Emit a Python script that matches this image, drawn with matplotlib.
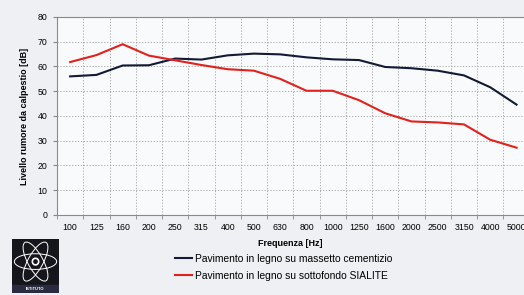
import matplotlib
matplotlib.use('Agg')
import matplotlib.pyplot as plt
from matplotlib.patches import Ellipse, Circle, Rectangle
import numpy as np

plt.rcParams['font.family'] = ['Liberation Sans', 'DejaVu Sans']

freqs = ['100', '125', '160', '200', '250', '315', '400', '500', '630', '800',
         '1000', '1250', '1600', '2000', '2500', '3150', '4000', '5000']
cementizio = [56.0, 56.6, 60.4, 60.5, 63.2, 62.8, 64.5, 65.2, 64.9, 63.7,
              62.9, 62.6, 59.8, 59.3, 58.3, 56.4, 51.6, 44.6]
sialite = [61.8, 64.6, 69.0, 64.4, 62.5, 60.6, 58.9, 58.3, 55.0, 50.2,
           50.2, 46.4, 41.1, 37.8, 37.4, 36.6, 30.4, 27.2]
yticks = [0, 10, 20, 30, 40, 50, 60, 70, 80]

fig = plt.figure(figsize=(5.24, 2.95), dpi=100, facecolor='#eef0f4')
ax = fig.add_axes([0.1088, 0.2712, 0.902, 0.6712])
ax.set_facecolor('#f9fafb')

x = np.arange(len(freqs))
l1, = ax.plot(x, cementizio, color='#121a35', lw=1.5)
l2, = ax.plot(x, sialite, color='#e3211c', lw=1.5)

ax.set_xlim(-0.5, len(freqs) - 0.5)
ax.set_ylim(0, 80)
ax.set_yticks(yticks)
ax.set_xticks(x)
ax.set_xticklabels(freqs)
ax.set_xticks(np.arange(len(freqs) + 1) - 0.5, minor=True)
ax.tick_params(axis='x', which='major', length=0, labelsize=6.3, pad=6)
ax.tick_params(axis='x', which='minor', length=3, color='#888888')
ax.tick_params(axis='y', labelsize=6.3, length=3, color='#888888', pad=4)
ax.grid(True, axis='x', which='minor', ls=(0, (1.5, 2)), color='#a0a0a0', lw=0.6)
ax.grid(True, axis='y', which='major', ls=(0, (1.5, 2)), color='#a0a0a0', lw=0.6)
for s in ['left', 'bottom', 'top']:
    ax.spines[s].set_color('#8a8a8a')
    ax.spines[s].set_linewidth(0.8)
ax.spines['right'].set_visible(False)

ax.set_ylabel('Livello rumore da calpestio [dB]', fontsize=6.5, fontweight='bold', labelpad=6)
fig.text(0.553, 0.176, 'Frequenza [Hz]', fontsize=6.5, fontweight='bold', ha='center', va='center')

fig.legend([l1, l2], ['Pavimento in legno su massetto cementizio',
                      'Pavimento in legno su sottofondo SIALITE'],
           loc='upper left', bbox_to_anchor=(0.334, 0.14), frameon=False,
           fontsize=7.4, handlelength=1.7, handletextpad=0.2, labelspacing=0.7,
           borderpad=0, borderaxespad=0)

# logo
lg = fig.add_axes([12 / 524, 1 - 293 / 295, 47 / 524, 54 / 295])
lg.set_xlim(0, 1)
lg.set_ylim(0, 1.1)
lg.axis('off')
lg.add_patch(Rectangle((0, 0.18), 1, 0.92, color='#15151c'))
for ang in [0, 60, 120]:
    lg.add_patch(Ellipse((0.5, 0.64), 0.9, 0.32, angle=ang, fill=False, ec='white', lw=0.7))
lg.add_patch(Circle((0.5, 0.64), 0.07, color='white'))
lg.add_patch(Circle((0.5, 0.64), 0.035, color='#15151c'))
lg.add_patch(Rectangle((0, 0.0), 1, 0.16, color='#2a2a40'))
lg.text(0.5, 0.08, 'ISTITUTO', color='white', fontsize=3, ha='center', va='center', fontweight='bold')

fig.savefig('out.png', dpi=100, facecolor=fig.get_facecolor())
